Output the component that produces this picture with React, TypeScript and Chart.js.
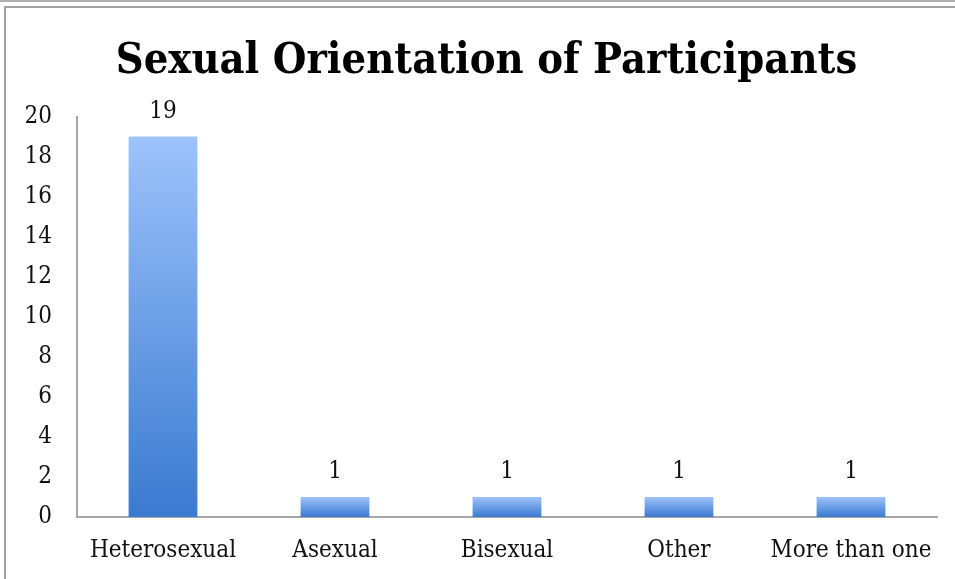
import React, { useEffect, useRef } from "react";
import { Chart, registerables } from "chart.js";

Chart.register(...registerables);

const categories = ["Heterosexual", "Asexual", "Bisexual", "Other", "More than one"];
const counts = [19, 1, 1, 1, 1];
const yTicks = [0, 2, 4, 6, 8, 10, 12, 14, 16, 18, 20];
const titleText = "Sexual Orientation of Participants";

const SERIF = "'DejaVu Serif Condensed', 'DejaVu Serif', serif";

const barLabels = {
  id: "barLabels",
  afterDatasetsDraw(chart: any) {
    const ctx = chart.ctx;
    const meta = chart.getDatasetMeta(0);
    ctx.save();
    ctx.font = `24px ${SERIF}`;
    ctx.fillStyle = "#111";
    ctx.textAlign = "center";
    ctx.textBaseline = "middle";
    meta.data.forEach((el: any, i: number) => {
      ctx.fillText(String(counts[i]), el.x, el.y - 25);
    });
    ctx.restore();
  },
};

// shift the title box so it is centred like the original (offset to the right)
const titleShift = {
  id: "titleShift",
  afterLayout(chart: any) {
    const t = chart.titleBlock;
    if (t) {
      t.left += 36;
    }
  },
};

export default function App() {
  const ref = useRef<HTMLCanvasElement | null>(null);
  useEffect(() => {
    if (!ref.current) return;
    const chart = new Chart(ref.current, {
      type: "bar",
      data: {
        labels: categories,
        datasets: [
          {
            data: counts,
            backgroundColor: (c: any) => {
              const ch = c.chart;
              const area = ch.chartArea;
              if (!area) return "#6a9ee8";
              const y = ch.scales.y;
              const top = y.getPixelForValue(counts[c.dataIndex] ?? 0);
              const bottom = y.getPixelForValue(0);
              const g = ch.ctx.createLinearGradient(0, top, 0, bottom);
              g.addColorStop(0, "#9dc3fb");
              g.addColorStop(1, "#3a7ad0");
              return g;
            },
            borderWidth: 0,
            barPercentage: 0.4,
            categoryPercentage: 1,
          },
        ],
      },
      options: {
        animation: false,
        responsive: false,
        layout: { padding: { left: 0, right: 18, top: 0, bottom: 0 } },
        plugins: {
          legend: { display: false },
          tooltip: { enabled: false },
          title: {
            display: true,
            text: titleText,
            color: "#000",
            font: { family: SERIF, size: 43, weight: "bold" },
            padding: { top: 36, bottom: 29 },
          },
        },
        scales: {
          x: {
            grid: { display: false, drawTicks: false },
            border: { display: true, color: "#a6a6a6", width: 2 },
            ticks: { color: "#111", font: { family: SERIF, size: 24 }, padding: 19, maxRotation: 0 },
            afterFit: (s: any) => {
              s.height = 62;
            },
          },
          y: {
            min: 0,
            max: 20,
            afterBuildTicks: (s: any) => {
              s.ticks = yTicks.map((v) => ({ value: v }));
            },
            grid: { display: false, drawTicks: false },
            border: { display: true, color: "#a6a6a6", width: 2 },
            ticks: { color: "#111", font: { family: SERIF, size: 24 }, padding: 25 },
            afterFit: (s: any) => {
              s.width = 77;
            },
          },
        },
      },
      plugins: [barLabels, titleShift],
    });
    return () => chart.destroy();
  }, []);

  return (
    <div style={{ position: "fixed", left: 0, top: 0, width: 955, height: 579, background: "#fff", overflow: "hidden" }}>
      <div style={{ position: "absolute", left: 0, top: 0, width: 955, height: 0, borderTop: "2px solid #b0b0b0" }} />
      <div
        style={{
          position: "absolute",
          left: 4,
          top: 6,
          width: 980,
          height: 600,
          borderTop: "2px solid #a0a0a0",
          borderLeft: "2px solid #a0a0a0",
        }}
      />
      <canvas ref={ref} width={955} height={579} style={{ position: "absolute", left: 0, top: 0 }} />
    </div>
  );
}
